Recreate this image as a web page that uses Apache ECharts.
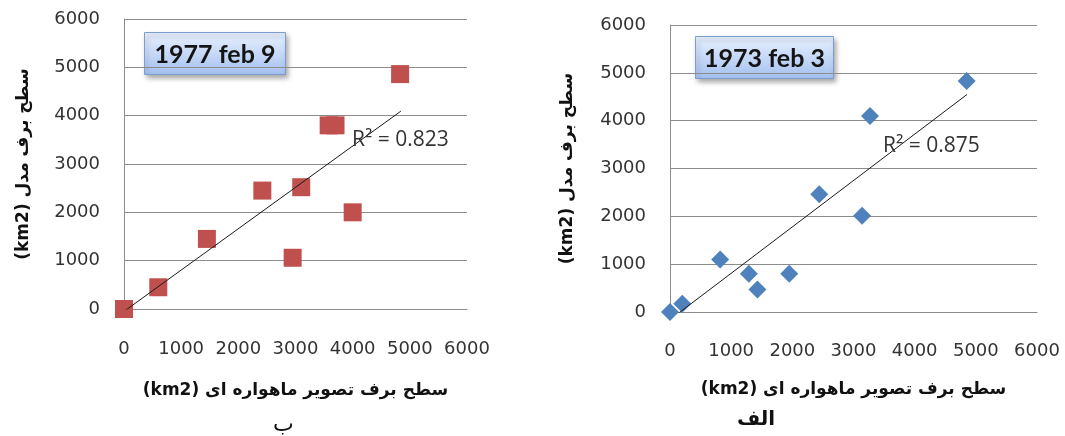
<!DOCTYPE html>
<html>
<head>
<meta charset="utf-8">
<script src="https://cdn.jsdelivr.net/npm/echarts@6/dist/echarts.min.js"></script>
<style>html,body{margin:0;padding:0;background:#fff}#c{width:1065px;height:436px}</style>
</head>
<body>
<div id="c"></div>
<script>
// ---- data ----
const axisTicks = [0, 1000, 2000, 3000, 4000, 5000, 6000];
// panel "ب" : 1977 feb 9 (squares)
const satX1977 = [0, 600, 1450, 2420, 3100, 2950, 4000, 3580, 3700, 4830];
const modY1977 = [0, 450, 1450, 2450, 2520, 1060, 2000, 3800, 3800, 4860];
const trendX1977 = [0, 4843];
const trendY1977 = [-50, 4093];
const r2Label1977 = 'R² = 0.823';
const title1977 = '1977 feb 9';
// panel "الف" : 1973 feb 3 (diamonds)
const satX1973 = [0, 200, 820, 1290, 1430, 1950, 2440, 3140, 3270, 4850];
const modY1973 = [0, 175, 1100, 800, 470, 800, 2460, 2010, 4100, 4830];
const trendX1973 = [0, 4856];
const trendY1973 = [-160, 4548];
const r2Label1973 = 'R² = 0.875';
const title1973 = '1973 feb 3';
// texts
const yTitle = '(km2) سطح برف مدل';
const xTitle = '(km2) سطح برف تصویر ماهواره ای';
const panelLabelLeft = 'ب';
const panelLabelRight = 'الف';

const pairs = (xs, ys) => xs.map((x, i) => [x, ys[i]]);

const tickFont = {fontFamily: 'DejaVu Sans', fontSize: 18, color: '#333', formatter: v => String(v)};
const titleFont = {fontFamily: 'DejaVu Sans', fontWeight: 'bold', fontSize: 17, color: '#111'};
const gridColor = '#8c8c8c';

function xAxisCfg(gridIndex, gap, margin) {
  return {
    type: 'value', gridIndex, min: axisTicks[0], max: axisTicks[axisTicks.length - 1],
    interval: axisTicks[1] - axisTicks[0],
    axisLine: {show: true, lineStyle: {color: gridColor, width: 1}},
    axisTick: {show: false},
    splitLine: {show: false},
    axisLabel: Object.assign({margin: margin}, tickFont),
    name: xTitle, nameLocation: 'middle', nameGap: gap,
    nameTextStyle: titleFont
  };
}
function yAxisCfg(gridIndex, gap) {
  return {
    type: 'value', gridIndex, min: axisTicks[0], max: axisTicks[axisTicks.length - 1],
    interval: axisTicks[1] - axisTicks[0],
    axisLine: {show: true, lineStyle: {color: gridColor, width: 1}},
    axisTick: {show: false},
    splitLine: {show: true, lineStyle: {color: gridColor, width: 1}},
    axisLabel: Object.assign({margin: 24}, tickFont),
    name: yTitle, nameLocation: 'middle', nameGap: gap, nameRotate: 90,
    nameTextStyle: titleFont
  };
}
function titleBox(x, y, w, h, text) {
  return {
    type: 'group', left: x, top: y, z: 100,
    children: [
      {type: 'rect', shape: {x: 0, y: 0, width: w, height: h},
       style: {
         fill: {type: 'linear', x: 0, y: 0, x2: 0, y2: 1,
                colorStops: [{offset: 0, color: '#e9f1ff'}, {offset: 1, color: '#a3c0ef'}]},
         stroke: '#7d9cd0', lineWidth: 1,
         shadowBlur: 5, shadowOffsetX: 2, shadowOffsetY: 3, shadowColor: 'rgba(0,0,0,0.35)'
       }},
      {type: 'text', x: w / 2, y: h / 2 + 1,
       style: {text: text, fill: '#141414', font: 'bold 25px Lato', align: 'center', verticalAlign: 'middle'}}
    ]
  };
}

const chart = echarts.init(document.getElementById('c'), null, {renderer: 'canvas'});
chart.setOption({
  animation: false,
  backgroundColor: '#fff',
  grid: [
    {left: 124, right: 598, top: 19, bottom: 127},
    {left: 670, right: 28, top: 25, bottom: 124}
  ],
  xAxis: [xAxisCfg(0, 73, 31), xAxisCfg(1, 69, 30)],
  yAxis: [yAxisCfg(0, 92), yAxisCfg(1, 94)],
  series: [
    {type: 'line', xAxisIndex: 0, yAxisIndex: 0, data: pairs(trendX1977, trendY1977),
     showSymbol: false, symbol: 'none', clip: true, z: 3,
     lineStyle: {color: '#1a1a1a', width: 1}},
    {type: 'scatter', xAxisIndex: 0, yAxisIndex: 0, data: pairs(satX1977, modY1977),
     symbol: 'rect', symbolSize: 18, z: 2, itemStyle: {color: '#C0504D', opacity: 1}},
    {type: 'line', xAxisIndex: 1, yAxisIndex: 1, data: pairs(trendX1973, trendY1973),
     showSymbol: false, symbol: 'none', clip: true, z: 3,
     lineStyle: {color: '#1a1a1a', width: 1}},
    {type: 'scatter', xAxisIndex: 1, yAxisIndex: 1, data: pairs(satX1973, modY1973),
     symbol: 'diamond', symbolSize: 18, z: 2, itemStyle: {color: '#4F81BD', opacity: 1}}
  ],
  graphic: [
    titleBox(144, 32, 141, 42, title1977),
    titleBox(695, 36, 138, 42, title1973),
    {type: 'text', left: 352, top: 130, z: 100,
     style: {text: r2Label1977, font: '21px "Open Sans"', fill: '#333'}},
    {type: 'text', left: 883, top: 136, z: 100,
     style: {text: r2Label1973, font: '21px "Open Sans"', fill: '#333'}},
    {type: 'text', left: 273, top: 414, z: 100,
     style: {text: panelLabelLeft, font: '22px "DejaVu Sans"', fill: '#111'}},
    {type: 'text', left: 737, top: 410, z: 100,
     style: {text: panelLabelRight, font: 'bold 20px "DejaVu Sans"', fill: '#111'}}
  ]
});
</script>
</body>
</html>
